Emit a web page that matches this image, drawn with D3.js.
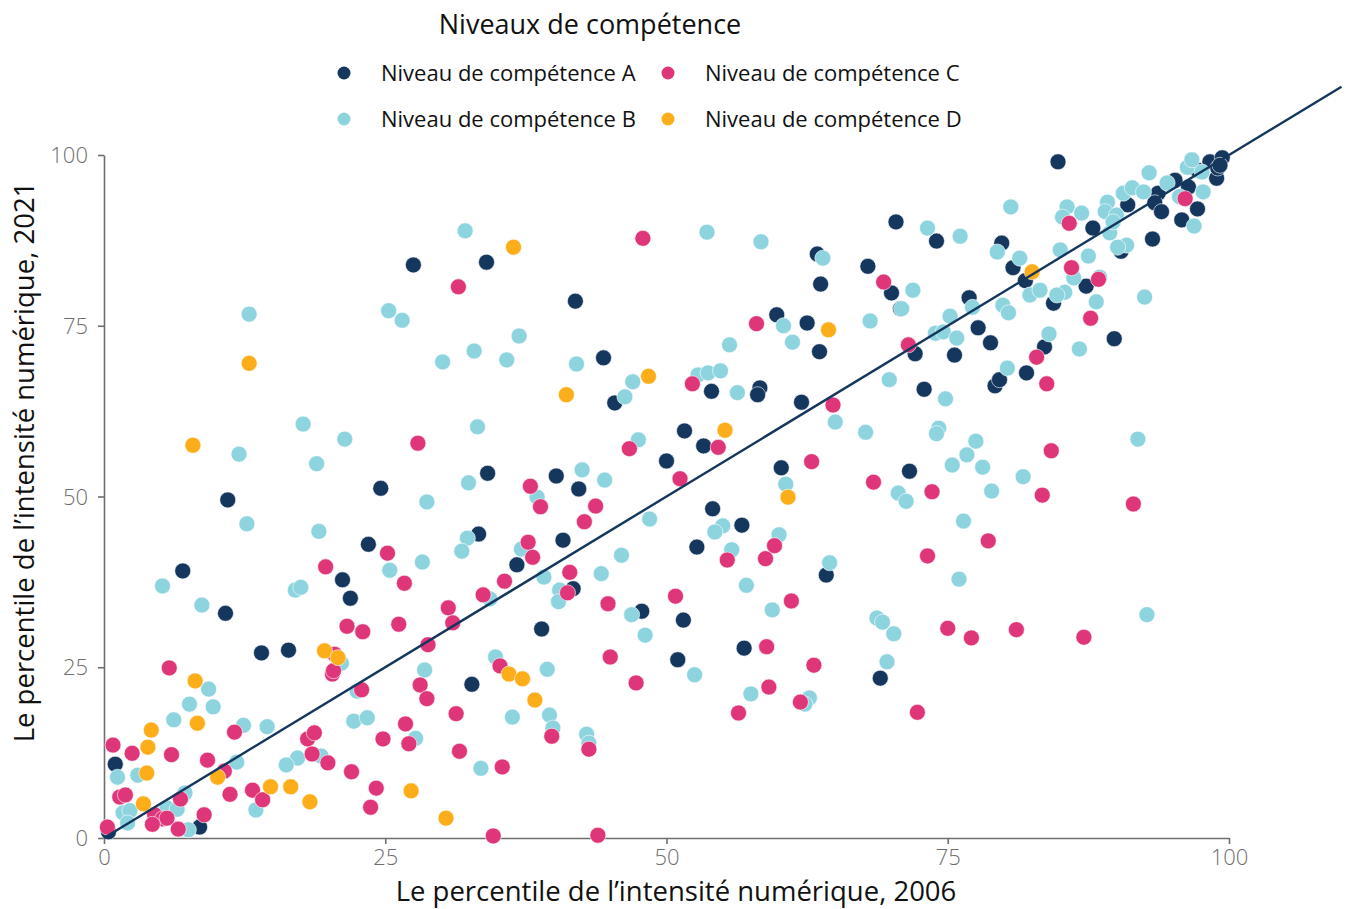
<!DOCTYPE html>
<html>
<head>
<meta charset="utf-8">
<script src="https://cdn.jsdelivr.net/npm/d3@7"></script>
<style>
  body { margin: 0; background: #fff; }
  text { font-family: "Open Sans", "Noto Sans", sans-serif; }
</style>
</head>
<body>
<div id="chart"></div>
<script>
// [percentile 2006, percentile 2021]
const niveauA = [
  [0.4,0.9],[1.0,10.8],[8.5,1.6],[7.0,39.1],[11.0,49.5],[10.8,32.9],[14.0,27.1],[16.4,27.5],
  [21.2,37.8],[21.9,35.1],[23.5,43.0],[24.6,51.2],[27.5,83.9],[34.0,84.3],[33.3,44.5],[34.1,53.4],
  [32.7,22.5],[36.7,40.0],[38.9,30.6],[40.2,53.0],[40.8,43.6],[41.7,36.5],[42.2,51.1],[41.9,78.6],
  [44.4,70.3],[45.4,63.7],[47.8,33.2],[50.0,55.2],[51.6,59.6],[51.5,31.9],[52.7,42.6],[51.0,26.1],
  [53.3,57.4],[54.0,65.4],[54.1,48.2],[56.7,45.8],[56.9,27.8],[58.3,65.9],[58.1,64.9],[59.8,76.6],
  [60.2,54.2],[62.0,63.8],[62.5,75.4],[63.4,85.5],[63.7,81.1],[63.6,71.2],[64.2,38.5],[67.9,83.7],
  [70.0,79.8],[70.4,90.2],[69.0,23.4],[74.0,87.4],[72.1,70.9],[71.6,53.7],[72.9,65.7],[75.6,70.7],
  [70.8,77.5],[76.9,79.1],[77.7,74.7],[78.8,72.5],[79.2,66.2],[79.6,67.1],[79.8,87.1],[80.8,83.5],
  [81.9,81.6],[82.0,68.1],[83.6,71.9],[84.4,78.3],[84.8,99.0],[87.3,80.8],[87.9,89.3],[89.8,73.1],
  [90.4,85.9],[91.0,92.7],[93.2,87.7],[93.7,94.4],[93.4,93.0],[94.0,91.7],[95.2,96.3],[95.8,90.5],
  [96.4,95.3],[97.2,92.1],[97.2,97.8],[98.3,99.0],[98.9,96.6],[99.4,99.6],[99.0,98.1],[99.2,98.5]
];
const niveauB = [
  [12.9,76.7],[25.3,77.2],[32.1,88.9],[26.5,75.8],[36.9,73.5],[32.9,71.3],[30.1,69.7],[35.8,70.0],
  [42.0,69.4],[47.0,66.8],[46.3,64.6],[53.6,88.7],[58.4,87.3],[63.9,84.9],[73.2,89.3],[76.1,88.1],
  [71.9,80.2],[70.9,77.5],[68.1,75.7],[75.2,76.4],[73.9,73.9],[74.6,74.1],[75.8,73.2],[60.4,75.0],
  [61.2,72.6],[55.6,72.2],[52.8,67.8],[53.7,68.1],[54.8,68.4],[69.8,67.1],[56.3,65.2],[80.6,92.4],
  [85.6,92.4],[85.2,90.9],[86.9,91.5],[89.2,93.1],[89.0,91.7],[90.0,91.2],[89.4,88.6],[89.7,90.2],
  [90.6,94.4],[91.4,95.2],[92.4,94.6],[92.9,97.4],[94.5,95.9],[96.3,98.2],[96.7,99.3],[97.6,97.5],
  [97.7,94.6],[95.6,93.9],[96.9,89.6],[90.9,86.8],[90.1,86.5],[92.5,79.2],[87.5,85.2],[85.0,86.1],
  [81.4,84.9],[79.4,85.8],[86.2,82.0],[88.5,82.1],[82.3,79.5],[83.2,80.2],[85.4,79.9],[84.7,79.5],
  [79.9,78.0],[80.4,76.9],[88.2,78.5],[77.2,77.7],[84.0,73.8],[86.7,71.6],[80.3,68.8],
  [17.7,60.6],[21.4,58.4],[12.0,56.2],[18.9,54.8],[12.7,46.0],[19.1,44.9],[25.4,39.2],[5.2,36.9],
  [17.0,36.3],[17.5,36.7],[8.7,34.1],[33.2,60.2],[47.5,58.3],[42.5,53.9],[32.4,52.0],[44.5,52.4],
  [38.5,49.9],[28.7,49.2],[48.5,46.7],[32.3,43.9],[31.8,42.0],[37.1,42.3],[46.0,41.4],[28.3,40.4],
  [44.2,38.7],[39.1,38.2],[40.5,36.3],[40.4,34.6],[34.3,35.0],[46.9,32.7],[74.8,64.3],[65.0,60.9],
  [67.7,59.4],[74.2,60.0],[74.0,59.2],[60.6,51.8],[75.4,54.6],[70.6,50.5],[71.3,49.3],[76.4,46.4],
  [55.0,45.7],[54.3,44.8],[55.8,42.2],[60.0,44.4],[64.5,40.3],[57.1,37.0],[76.0,37.9],[59.4,33.4],
  [68.7,32.2],[69.2,31.6],[91.9,58.4],[77.5,58.1],[76.7,56.1],[78.1,54.3],[81.7,52.9],[78.9,50.8],
  [92.7,32.7],[70.2,29.9],[52.5,23.9],[69.6,25.8],[57.5,21.1],[62.7,20.5],[62.3,19.6],[28.5,24.6],
  [34.8,26.5],[39.4,24.7],[36.3,17.7],[39.6,18.0],[39.9,16.1],[27.7,14.6],[42.9,15.2],[43.1,13.9],
  [48.1,29.7],[33.5,10.2],[21.1,25.6],[9.3,21.8],[7.6,19.6],[9.7,19.2],[6.2,17.3],[12.4,16.5],
  [14.5,16.3],[22.5,21.5],[22.2,17.1],[23.4,17.6],[11.8,11.1],[1.2,8.9],[3.0,9.2],[13.5,4.1],
  [19.3,12.0],[17.2,11.7],[16.2,10.7],[1.7,3.7],[2.3,4.0],[2.1,2.2],[5.6,4.4],[6.5,4.2],
  [7.5,1.2],[7.2,6.6]
];
const niveauC = [
  [31.5,80.7],[47.9,87.8],[69.3,81.4],[71.5,72.2],[58.0,75.3],[52.3,66.5],[85.8,90.0],[96.1,93.6],
  [86.0,83.5],[88.4,81.8],[87.7,76.1],[82.9,70.4],[83.8,66.5],[25.2,41.7],[19.7,39.7],[27.9,57.8],
  [46.7,57.0],[51.2,52.6],[37.9,51.5],[38.8,48.5],[43.7,48.6],[42.7,46.3],[37.7,43.3],[38.1,41.1],
  [41.4,38.9],[26.7,37.3],[35.6,37.6],[41.2,35.9],[33.7,35.6],[30.6,33.7],[50.8,35.4],[44.8,34.3],
  [26.2,31.3],[31.0,31.5],[54.6,57.2],[64.8,63.4],[62.9,55.1],[68.4,52.1],[73.6,50.7],[55.4,40.7],
  [59.6,42.8],[58.8,40.9],[73.2,41.3],[61.1,34.7],[84.2,56.7],[83.4,50.2],[91.5,48.9],[78.6,43.5],
  [75.0,30.7],[58.9,28.0],[63.1,25.3],[59.1,22.1],[56.4,18.3],[61.9,19.9],[72.3,18.4],[77.1,29.3],
  [81.1,30.5],[87.1,29.4],[28.8,28.3],[28.1,22.4],[28.7,20.4],[35.2,25.2],[39.8,14.9],[31.3,18.2],
  [26.8,16.7],[27.1,13.8],[24.8,14.5],[31.6,12.7],[43.1,13.0],[45.0,26.5],[47.3,22.7],[35.4,10.4],
  [34.6,0.3],[43.9,0.4],[21.6,31.0],[23.0,30.2],[20.5,26.9],[20.3,24.0],[20.4,24.5],[5.8,24.9],
  [11.6,15.5],[22.9,21.7],[0.8,13.6],[2.5,12.4],[6.0,12.2],[9.2,11.4],[10.7,9.8],[11.2,6.4],
  [13.2,7.0],[14.1,5.6],[22.0,9.7],[24.2,7.3],[23.7,4.5],[18.1,14.5],[18.7,15.4],[18.5,12.3],
  [19.9,11.0],[1.4,6.0],[1.9,6.3],[0.3,1.6],[4.5,3.4],[5.2,2.8],[5.6,2.9],[4.3,2.0],
  [6.8,5.7],[6.6,1.3],[8.9,3.4]
];
const niveauD = [
  [36.4,86.5],[12.9,69.5],[48.4,67.6],[41.1,64.9],[64.4,74.4],[82.5,82.9],[7.9,57.5],[55.2,59.7],
  [60.8,49.9],[19.6,27.4],[20.8,26.4],[8.1,23.0],[8.3,16.8],[4.2,15.8],[3.9,13.3],[3.8,9.5],
  [10.1,8.9],[3.5,5.0],[14.8,7.5],[16.6,7.5],[18.3,5.3],[36.0,24.0],[37.2,23.3],[38.3,20.2],
  [27.3,6.9],[30.4,2.9]
];

const levels = ["Niveau de compétence A", "Niveau de compétence B", "Niveau de compétence C", "Niveau de compétence D"];
const series = [niveauA, niveauB, niveauC, niveauD];
const xTicks = [0, 25, 50, 75, 100];
const yTicks = [0, 25, 50, 75, 100];
const diagonal = [0, 110];

const width = 1346;
const height = 909;

const color = d3.scaleOrdinal()
  .domain(levels)
  .range(["#15365d", "#8dd4df", "#df3679", "#fbae19"]);

const x = d3.scaleLinear().domain([0, 100]).range([104, 1229]);
const y = d3.scaleLinear().domain([0, 100]).range([838, 155]);

const svg = d3.select("#chart").append("svg")
  .attr("width", width)
  .attr("height", height);

// axes
const xAxis = svg.append("g")
  .attr("transform", `translate(0, ${y(0)})`)
  .call(d3.axisBottom(x).tickValues(xTicks).tickSize(6).tickSizeOuter(0).tickPadding(5));
const yAxis = svg.append("g")
  .attr("transform", `translate(${x(0)}, 0)`)
  .call(d3.axisLeft(y).tickValues(yTicks).tickSize(6).tickSizeOuter(0).tickPadding(10));

[xAxis, yAxis].forEach((g) => {
  g.select(".domain").attr("stroke", "#6e6e6e").attr("stroke-width", 1.6);
  g.selectAll(".tick line").attr("stroke", "#6e6e6e").attr("stroke-width", 1.6);
  g.selectAll(".tick text")
    .attr("fill", "#6e6e6e")
    .style("font-size", "22px")
    .style("font-weight", 300)
    .style("font-family", "'Open Sans', sans-serif");
});
yAxis.selectAll(".tick text").attr("dy", "0.35em");

// points
const points = svg.append("g").attr("class", "points");
series.forEach((data, i) => {
  points.append("g")
    .selectAll("circle")
    .data(data).enter()
    .append("circle")
      .attr("cx", (d) => x(d[0]))
      .attr("cy", (d) => y(d[1]))
      .attr("r", 8)
      .attr("fill", color(levels[i]))
      .attr("stroke", "#fff")
      .attr("stroke-width", 0.6);
});

// y = x line
svg.append("line")
  .attr("x1", x(diagonal[0]))
  .attr("y1", y(diagonal[0]))
  .attr("x2", x(diagonal[1]))
  .attr("y2", y(diagonal[1]))
  .attr("stroke", "#15365d")
  .attr("stroke-width", 2.4);

// axis titles
svg.append("text")
  .attr("x", 676)
  .attr("y", 901)
  .attr("text-anchor", "middle")
  .attr("fill", "#111")
  .style("font-size", "27.5px")
  .text("Le percentile de l’intensité numérique, 2006");

svg.append("text")
  .attr("transform", "translate(34, 462) rotate(-90)")
  .attr("text-anchor", "middle")
  .attr("fill", "#111")
  .style("font-size", "27.5px")
  .text("Le percentile de l’intensité numérique, 2021");

// legend
svg.append("text")
  .attr("x", 590)
  .attr("y", 34)
  .attr("text-anchor", "middle")
  .attr("fill", "#111")
  .style("font-size", "27px")
  .text("Niveaux de compétence");

const legendPos = [[344, 73], [344, 119], [668, 73], [668, 119]];
const legend = svg.append("g")
  .selectAll("g")
  .data(levels).enter()
  .append("g")
    .attr("transform", (d, i) => `translate(${legendPos[i][0]}, ${legendPos[i][1]})`);

legend.append("circle")
  .attr("r", 6.5)
  .attr("fill", (d) => color(d));

legend.append("text")
  .attr("x", 37)
  .attr("dy", "0.35em")
  .attr("fill", "#111")
  .style("font-size", "22px")
  .text((d) => d);
</script>
</body>
</html>
